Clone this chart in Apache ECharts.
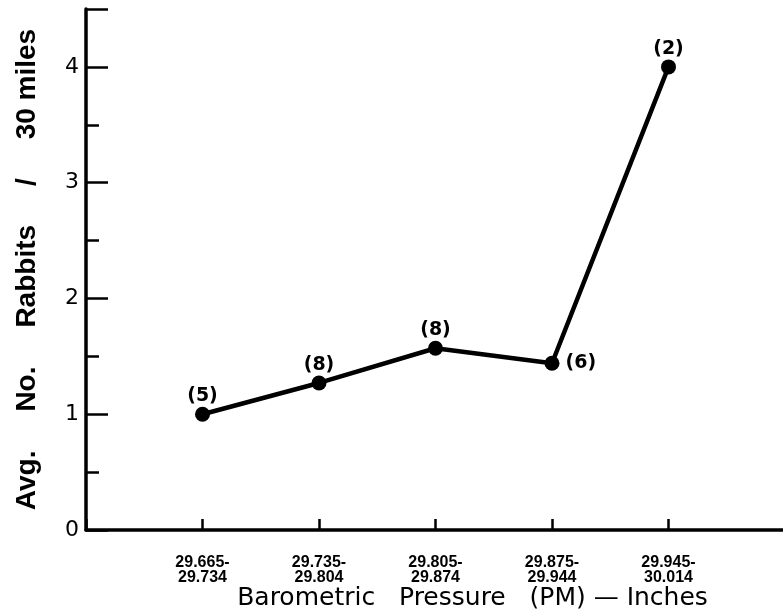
<!DOCTYPE html>
<html>
<head>
<meta charset="utf-8">
<script src="https://cdn.jsdelivr.net/npm/echarts@6/dist/echarts.min.js"></script>
<style>html,body{margin:0;padding:0;background:#fff;}#c{width:783px;height:609px;}</style>
</head>
<body>
<div id="c"></div>
<script>
var categories = ['29.665-\n29.734', '29.735-\n29.804', '29.805-\n29.874', '29.875-\n29.944', '29.945-\n30.014'];
var positions = [1, 2, 3, 4, 5];
var avgRabbits = [1.0, 1.27, 1.57, 1.44, 4.0];
var sampleCounts = ['(5)', '(8)', '(8)', '(6)', '(2)'];
var labelPlacement = ['top', 'top', 'top', 'right', 'top'];
var yTicks = [0, 1, 2, 3, 4];

var chart = echarts.init(document.getElementById('c'), null, {renderer: 'canvas'});
var pts = positions.map(function (p, i) {
  return {
    value: [p, avgRabbits[i]],
    label: {show: true, formatter: sampleCounts[i], position: labelPlacement[i], distance: labelPlacement[i] === 'right' ? 6 : 1}
  };
});
chart.setOption({
  animation: false,
  backgroundColor: '#fff',
  grid: {left: 86, top: 9, width: 699, height: 521, containLabel: false, outerBoundsMode: 'none'},
  xAxis: {
    type: 'value', min: 0, max: 6, interval: 1,
    splitLine: {show: false},
    axisLine: {lineStyle: {color: '#000', width: 3.5}},
    axisTick: {show: true, inside: true, length: 11, lineStyle: {color: '#000', width: 2.5}},
    axisLabel: {
      margin: 25, color: '#000', fontSize: 16, fontWeight: 'bold', fontFamily: 'Liberation Sans', lineHeight: 15,
      formatter: function (v) { var i = positions.indexOf(v); return i >= 0 ? categories[i] : ''; }
    },
    name: 'Barometric   Pressure   (PM) \u2014 Inches',
    nameLocation: 'middle', nameGap: 56, nameMoveOverlap: false,
    nameTextStyle: {color: '#000', fontSize: 25, fontFamily: 'DejaVu Sans', padding: [0, 0, 0, 74]}
  },
  yAxis: {
    type: 'value', min: 0, max: 4.5, interval: 1,
    splitLine: {show: false},
    axisLine: {lineStyle: {color: '#000', width: 3.5}},
    axisTick: {show: true, inside: true, length: 22, lineStyle: {color: '#000', width: 2.5}},
    minorTick: {show: true, splitNumber: 2, length: 13, lineStyle: {color: '#000', width: 2.5}},
    axisLabel: {
      margin: 7, color: '#000', fontSize: 22, fontFamily: 'DejaVu Sans',
      formatter: function (v) { return yTicks.indexOf(v) >= 0 ? String(v) : ''; }
    },
    name: 'Avg.     No.     Rabbits     /     30 miles',
    nameLocation: 'middle', nameGap: 45, nameMoveOverlap: false,
    nameTextStyle: {color: '#000', fontSize: 28, fontWeight: 'bold', fontFamily: 'Liberation Sans'}
  },
  series: [{
    type: 'line',
    data: pts,
    symbol: 'circle', symbolSize: 15,
    lineStyle: {color: '#000', width: 4.5},
    itemStyle: {color: '#000'},
    label: {color: '#000', fontSize: 19, fontWeight: 'bold', fontFamily: 'DejaVu Sans'}
  }]
});
</script>
</body>
</html>
